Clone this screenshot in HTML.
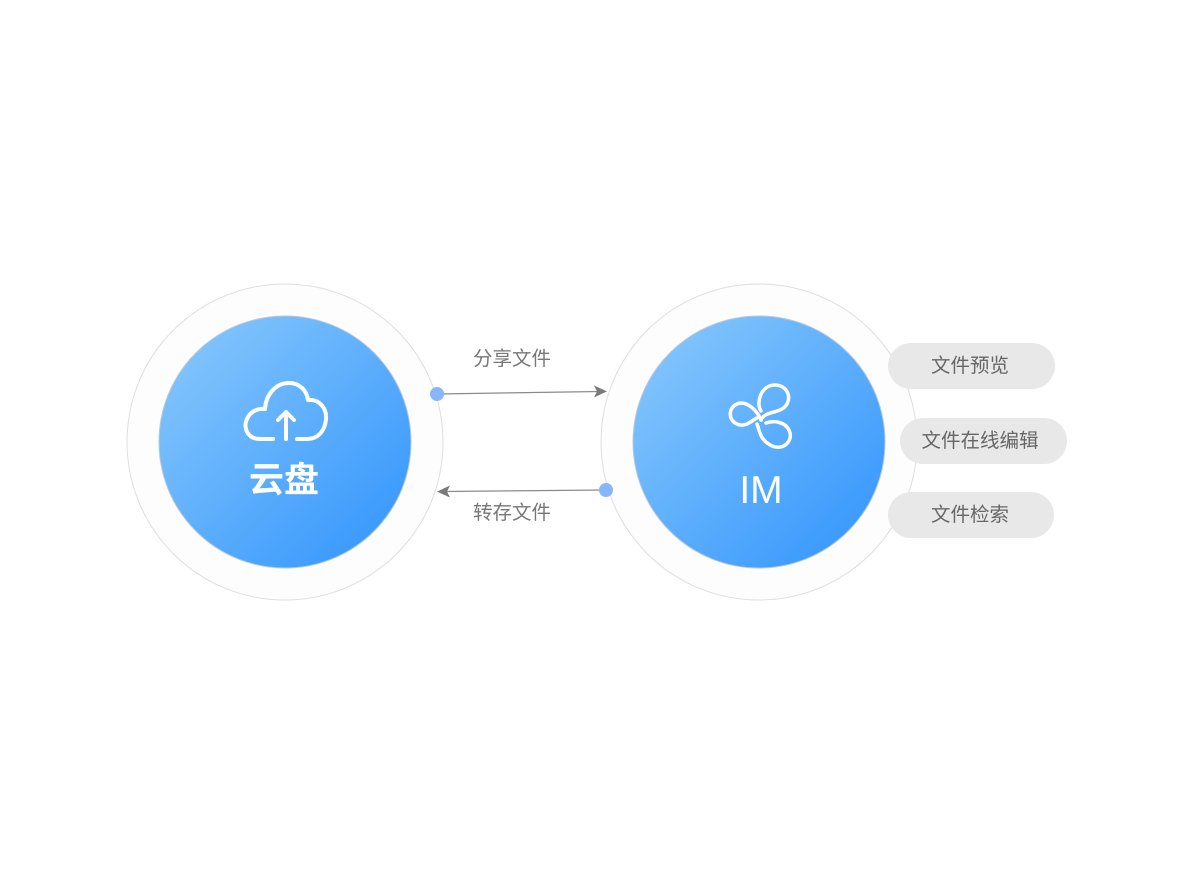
<!DOCTYPE html>
<html><head><meta charset="utf-8"><style>
html,body{margin:0;padding:0;background:#fff;}
body{width:1192px;height:884px;position:relative;overflow:hidden;font-family:"Liberation Sans","Noto Sans CJK SC",sans-serif;}
</style></head><body>
<svg width="1192" height="884" style="position:absolute;left:0;top:0">
<defs>
<linearGradient id="g" x1="0" y1="0" x2="1" y2="1">
<stop offset="0" stop-color="#8ccafd"/><stop offset="1" stop-color="#2f93fb"/>
</linearGradient>
</defs>
<circle cx="285" cy="442" r="158" fill="#fdfdfd" stroke="#dedede" stroke-width="1"/>
<circle cx="759" cy="442" r="158" fill="#fdfdfd" stroke="#dedede" stroke-width="1"/>
<circle cx="285" cy="442" r="126" fill="url(#g)" stroke="#b8c8d8" stroke-width="1"/>
<circle cx="759" cy="442" r="126" fill="url(#g)" stroke="#b8c8d8" stroke-width="1"/>
<path d="M273 439 H260 C247 439 243 427 247 419 C250 412 257 408 265 409 C266 394 276 383 289 383 C300 383 307 391 308 400 C319 399 327 408 326 419 C325 431 318 439 307 439 H297" fill="none" stroke="#fff" stroke-width="4" stroke-linecap="round" stroke-linejoin="round"/>
<path d="M286 439 V412 M278 420 L286 412 L294 420" fill="none" stroke="#fff" stroke-width="4" stroke-linecap="round" stroke-linejoin="round"/>
<text x="284" y="492" font-size="35" font-weight="bold" fill="#fff" text-anchor="middle" font-family="Liberation Sans,Noto Sans CJK SC,sans-serif">云盘</text>
<g fill="none" stroke="#fff" stroke-width="3.5" stroke-linecap="round">
<path d="M761 411 C756 404 760 385 775 385 C790 385 794 404 780 410 C773 413 764 413 761 420"/>
<path d="M761 420 C757 410 746 400 737 404 C728 408 728 420 737 424 C746 428 752 420 757 418"/>
<path d="M757 424 C760 432 760 440 772 446 C784 451 794 440 789 430 C785 422 774 420 766 423"/>
</g>
<text x="761" y="503" font-size="39" fill="#fff" text-anchor="middle">IM</text>
<line x1="437" y1="394" x2="600" y2="391.5" stroke="#8a8a8a" stroke-width="1.3"/>
<path d="M607 391.4 L594 385.5 L597 391.5 L594 397.5 Z" fill="#7a7a7a"/>
<circle cx="437" cy="394" r="7" fill="#86b6fb"/>
<line x1="606" y1="490" x2="444" y2="491.5" stroke="#8a8a8a" stroke-width="1.3"/>
<path d="M437 491.6 L450 485.5 L447 491.5 L450 497.5 Z" fill="#7a7a7a"/>
<circle cx="606" cy="490" r="7" fill="#86b6fb"/>
<text x="512" y="365" font-size="19.5" fill="#777" text-anchor="middle">分享文件</text>
<text x="512" y="519" font-size="19.5" fill="#777" text-anchor="middle">转存文件</text>
<rect x="888" y="343" width="167" height="46" rx="23" fill="#e8e8e8"/>
<rect x="900" y="418" width="167" height="46" rx="23" fill="#e8e8e8"/>
<rect x="888" y="492" width="166" height="46" rx="23" fill="#e8e8e8"/>
<text x="970" y="372" font-size="19.5" fill="#666" text-anchor="middle">文件预览</text>
<text x="980" y="447" font-size="19.5" fill="#666" text-anchor="middle">文件在线编辑</text>
<text x="970" y="521" font-size="19.5" fill="#666" text-anchor="middle">文件检索</text>
</svg>
</body></html>
